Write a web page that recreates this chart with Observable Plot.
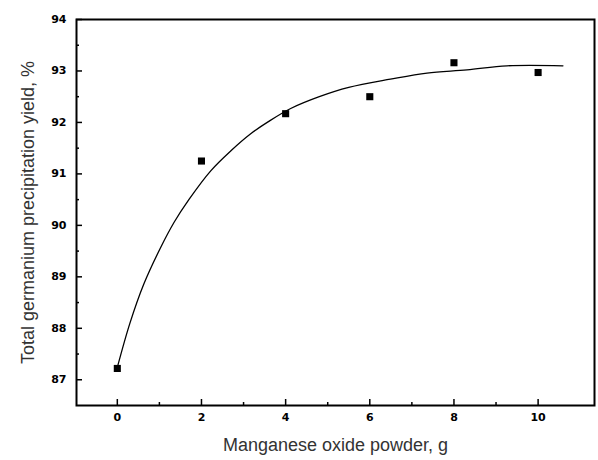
<!DOCTYPE html>
<html>
<head>
<meta charset="utf-8">
<script src="https://cdn.jsdelivr.net/npm/d3@7"></script>
<script src="https://cdn.jsdelivr.net/npm/@observablehq/plot@0.6"></script>
<style>
  html, body { margin: 0; padding: 0; background: #fff; }
  #chart svg { display: block; }
</style>
</head>
<body>
<div id="chart"></div>
<script>
// Measured points
const doseG = [0, 2, 4, 6, 8, 10];
const yieldPct = [87.22, 91.25, 92.17, 92.5, 93.16, 92.97];

// Fitted curve
const fitX = [0, 0.3, 0.63, 1.03, 1.35, 1.7, 2.22, 2.7, 3.17, 3.6, 4.12, 4.8, 5.5, 6.49, 7.36, 8.31, 9.26, 10.59];
const fitY = [87.24, 88.1, 88.86, 89.57, 90.06, 90.5, 91.06, 91.45, 91.78, 92.02, 92.27, 92.5, 92.68, 92.84, 92.96, 93.02, 93.1, 93.1];

// Ticks
const xTicks = [0, 2, 4, 6, 8, 10];
const xMinor = [1, 3, 5, 7, 9];
const yTicks = [87, 88, 89, 90, 91, 92, 93, 94];
const yMinor = [87.5, 88.5, 89.5, 90.5, 91.5, 92.5, 93.5];

const xLabel = "Manganese oxide powder, g";
const yLabel = "Total germanium precipitation yield, %";

const points = doseG.map((x, i) => ({x, y: yieldPct[i]}));
const fit = fitX.map((x, i) => ({x, y: fitY[i]}));

const W = 598, H = 460;
const mL = 76, mT = 19, mR = 4, mB = 55;
const fw = W - mL - mR, fh = H - mT - mB;
const tickFont = "'DejaVu Sans', sans-serif";
const labelFont = "'Liberation Sans', Arial, sans-serif";

const chart = Plot.plot({
  width: W,
  height: H,
  marginLeft: mL,
  marginTop: mT,
  marginRight: mR,
  marginBottom: mB,
  style: {background: "#fff", color: "#000", fontFamily: labelFont},
  x: {domain: [-0.97, 11.34]},
  y: {domain: [86.5, 94]},
  marks: [
    // inward major/minor ticks
    Plot.tickX(xTicks, {x: d => d, insetTop: fh - 6, stroke: "#000", strokeWidth: 1.5}),
    Plot.tickX(xMinor, {x: d => d, insetTop: fh - 3, stroke: "#000", strokeWidth: 1.5}),
    Plot.tickY(yTicks, {y: d => d, insetRight: fw - 6, stroke: "#000", strokeWidth: 1.5}),
    Plot.tickY(yMinor, {y: d => d, insetRight: fw - 3, stroke: "#000", strokeWidth: 1.5}),
    Plot.axisX(xTicks, {tickSize: 0, tickPadding: 8, tickFormat: d3.format("d"), fontSize: 11, fontWeight: "bold", fontFamily: tickFont, label: null}),
    Plot.axisY(yTicks, {tickSize: 0, tickPadding: 10, tickFormat: d3.format("d"), fontSize: 11, fontWeight: "bold", fontFamily: tickFont, label: null}),
    Plot.frame({stroke: "#000", strokeWidth: 2}),
    Plot.line(fit, {x: "x", y: "y", curve: "catmull-rom", stroke: "#000", strokeWidth: 1.3}),
    Plot.dot(points, {x: "x", y: "y", symbol: "square", r: 4, fill: "#000", stroke: "none"}),
    Plot.text([xLabel], {text: d => d, frameAnchor: "bottom", textAnchor: "middle", dy: 45, fontSize: 18, fill: "#333", fontFamily: labelFont}),
    Plot.text([yLabel], {text: d => d, frameAnchor: "left", textAnchor: "middle", dx: -48, rotate: -90, fontSize: 18, fill: "#333", fontFamily: labelFont})
  ]
});

document.getElementById("chart").appendChild(chart);
</script>
</body>
</html>
